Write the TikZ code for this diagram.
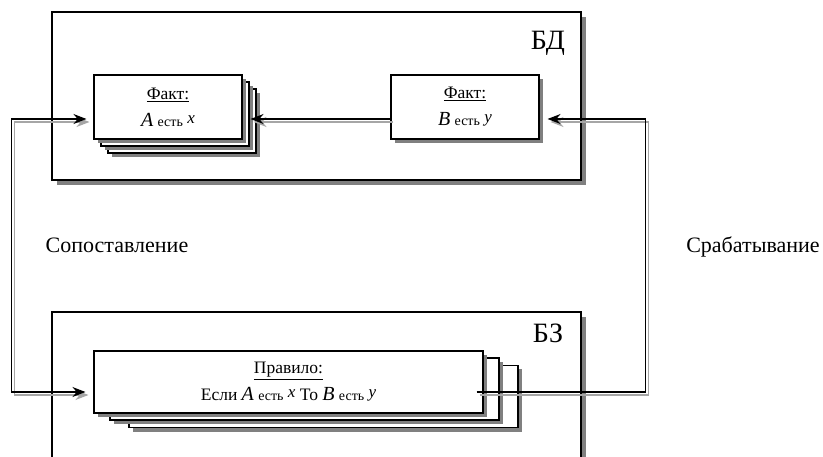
\documentclass[tikz,border=0pt]{standalone}
\usepackage{fontspec}
\setmainfont{Liberation Serif}
\usetikzlibrary{arrows.meta,shadows}

\newcommand{\bigvar}[1]{{\fontsize{20}{20}\selectfont\itshape #1}}
\newcommand{\estword}{{\fontsize{14}{14}\selectfont есть}}
\newcommand{\smvar}[1]{\raisebox{3pt}{\fontsize{17}{17}\selectfont\itshape #1}}

\begin{document}
\begin{tikzpicture}[x=1pt,y=-1pt,
    frame/.style={draw, line width=1.3pt, fill=white, inner sep=0pt,
      drop shadow={shadow xshift=5pt, shadow yshift=-5pt, fill=black!50, opacity=1}},
    card/.style={draw, line width=1.1pt, fill=white, inner sep=0pt, align=center,
      font=\fontsize{17.5}{27}\selectfont,
      drop shadow={shadow xshift=4pt, shadow yshift=-4pt, fill=black!50, opacity=1}},
    conn/.style={line width=1.2pt,
      preaction={draw=black!35, line width=1.2pt, transform canvas={shift={(3pt,-3pt)}}}},
    tip/.style={-{Stealth[length=13pt,width=10pt]}, shorten >=8pt},
    lbl/.style={anchor=base, font=\fontsize{22}{22}\selectfont},
    tag/.style={anchor=base, font=\fontsize{28}{28}\selectfont}]

    \clip (0,0) rectangle (823,457);

    % knowledge stores
    \node[frame, minimum width=529pt, minimum height=168pt] (bd) at (316.5,96) {};
    \node[frame, minimum width=529pt, minimum height=190pt] (bz) at (316.5,407) {};
    \node[tag] (bdname) at (548,50) {БД};
    \node[tag] (bzname) at (548,343) {БЗ};

    % facts
    \node[card, minimum width=148pt, minimum height=64pt] (factA3) at (182,121) {};
    \node[card, minimum width=148pt, minimum height=64pt] (factA2) at (175,114) {};
    \node[card, minimum width=148pt, minimum height=64pt] (factA) at (168,107)
        {\underline{Факт:}\\\bigvar{A} \estword{} \smvar{x}};
    \node[card, minimum width=148pt, minimum height=64pt] (factB) at (465,107)
        {\underline{Факт:}\\\bigvar{B} \estword{} \smvar{y}};

    % rules
    \node[card, minimum width=389pt, minimum height=62pt] (rule3) at (323.5,396.5) {};
    \node[card, minimum width=389pt, minimum height=62pt] (rule2) at (304.5,389) {};
    \node[card, minimum width=389pt, minimum height=62pt] (rule) at (288.5,382)
        {\underline{Правило:}\\Если \bigvar{A} \estword{} \smvar{x} То \bigvar{B} \estword{} \smvar{y}};

    \draw[conn, tip] ([yshift=-12pt]factB.west) -- ([yshift=-12pt]factA.east);
    \draw[conn, tip, {Stealth[length=13pt,width=10pt]}-{Stealth[length=13pt,width=10pt]}, shorten <=7pt]
        ([yshift=-12pt]factA.west) -- ++(-82,0) |- ([yshift=-10pt]rule.west);
    \draw[conn, tip] ([xshift=-7pt,yshift=-10pt]rule.east) -- ++(169,0) |- ([yshift=-12pt]factB.east);

    \node[lbl] (match) at (117,253) {Сопоставление};
    \node[lbl] (fire) at (753,253) {Срабатывание};
\end{tikzpicture}
\end{document}
